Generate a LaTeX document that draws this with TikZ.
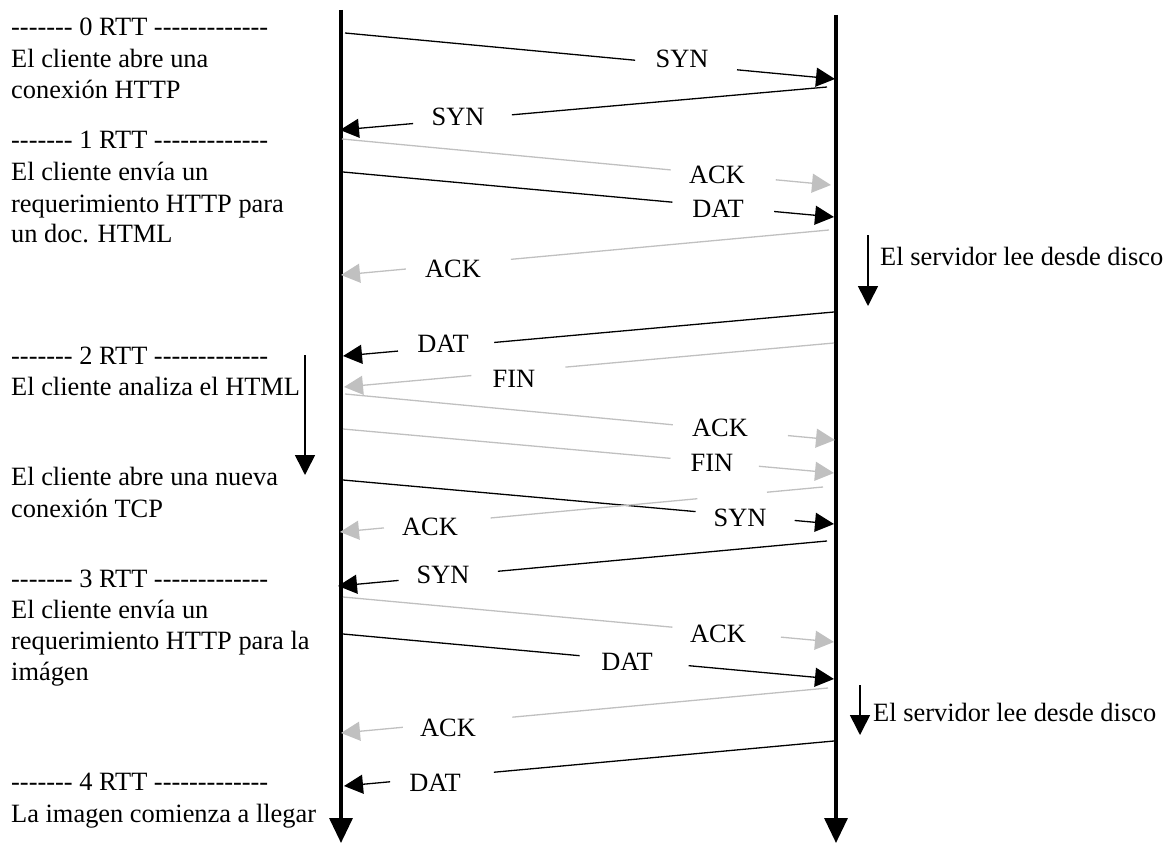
\documentclass[tikz,border=0pt]{standalone}
\usepackage{fontspec}
\setmainfont{Liberation Serif}
\usetikzlibrary{arrows.meta}

\definecolor{msggray}{RGB}{192,192,192}

% a run of plain hyphens, kept apart so they never merge into dashes
\newcommand\dashrun[1]{\foreach \i in {1,...,#1}{-\kern0pt}}

\tikzset{
  txt/.style={inner sep=0pt, font=\fontsize{26.4}{31}\selectfont},
  note/.style={txt, anchor=base west},
  lab/.style={txt},
  lifeline/.style={line width=3.4pt, -{Triangle[length=25pt,width=23pt]}},
  blk/.style={draw=black, line width=1.3pt},
  gry/.style={draw=msggray, line width=1.3pt},
  msgtip/.style={-{Triangle[length=19pt,width=19pt]}},
  waitarrow/.style={line width=1.6pt, -{Triangle[length=20pt,width=20pt]}},
}

% message: style, start, end, gap begins (pos), gap ends (pos), name, label centre, label
\newcommand\msg[8]{%
  \node[lab] (#6) at (#7) {#8};
  \path (#2) -- (#3) coordinate[pos=#4] (#6a) coordinate[pos=#5] (#6b);
  \draw[#1] (#2) -- (#6a);
  \draw[#1, msgtip] (#6b) -- (#3);
}

\begin{document}
\begin{tikzpicture}[x=1pt, y=-1pt]
\useasboundingbox (0,0) rectangle (1176,843);

% lifelines
\coordinate (c0) at (341,10);  \coordinate (c1) at (341,843);
\coordinate (s0) at (836,15);  \coordinate (s1) at (836,843);
\draw[lifeline] (c0) -- (c1);
\draw[lifeline] (s0) -- (s1);

% endpoints of the messages
\coordinate (m1s) at (345,33);   \coordinate (m1e) at (835,79);
\coordinate (m2s) at (827,87);   \coordinate (m2e) at (340,130);
\coordinate (m3s) at (342,139);  \coordinate (m3e) at (831,185);
\coordinate (m4s) at (343,172);  \coordinate (m4e) at (834,217);
\coordinate (m5s) at (829,230);  \coordinate (m5e) at (341,275);
\coordinate (m6s) at (834,312);  \coordinate (m6e) at (343,356);
\coordinate (m7s) at (834,343);  \coordinate (m7e) at (344,387);
\coordinate (m8s) at (345,394);  \coordinate (m8e) at (835,440);
\coordinate (m9s) at (343,429);  \coordinate (m9e) at (834,473);
\coordinate (m10s) at (343,480); \coordinate (m10e) at (834,524);
\coordinate (m11s) at (823,487); \coordinate (m11e) at (340,532);
\coordinate (m12s) at (827,541); \coordinate (m12e) at (338,586);
\coordinate (m13s) at (343,597); \coordinate (m13e) at (834,642);
\coordinate (m14s) at (343,634); \coordinate (m14e) at (834,679);
\coordinate (m15s) at (828,688); \coordinate (m15e) at (341,733);
\coordinate (m16s) at (834,741); \coordinate (m16e) at (344,786);

% first connection
\msg{blk}{m1s}{m1e}{0.592}{0.800}{l1}{682,59}{SYN}
\msg{blk}{m2s}{m2e}{0.647}{0.850}{l2}{458,117}{SYN}
\msg{gry}{m3s}{m3e}{0.672}{0.887}{l3}{717,175}{ACK}
\msg{blk}{m4s}{m4e}{0.671}{0.878}{l4}{718,209}{DAT}
\msg{gry}{m5s}{m5e}{0.652}{0.867}{l5}{453,269}{ACK}
\msg{blk}{m6s}{m6e}{0.692}{0.888}{l6}{443,344}{DAT}
\msg{gry}{m7s}{m7e}{0.548}{0.740}{l7}{514,379}{FIN}
\msg{gry}{m8s}{m8e}{0.669}{0.904}{l8}{720,428}{ACK}
\msg{gry}{m9s}{m9e}{0.667}{0.847}{l9}{712,463}{FIN}

% second connection
\msg{blk}{m10s}{m10e}{0.718}{0.920}{l10}{740,518}{SYN}
% the server's ACK passes behind the SYN label
\node[lab] (l11) at (430,527) {ACK};
\path (m11s) -- (m11e) coordinate[pos=0.116] (l11p) coordinate[pos=0.260] (l11q)
                       coordinate[pos=0.688] (l11a) coordinate[pos=0.909] (l11b);
\draw[gry] (m11s) -- (l11p);
\draw[gry] (l11q) -- (l11a);
\draw[gry, msgtip] (l11b) -- (m11e);
\msg{blk}{m12s}{m12e}{0.673}{0.876}{l12}{443,575}{SYN}
\msg{gry}{m13s}{m13e}{0.671}{0.892}{l13}{718,634}{ACK}
\msg{blk}{m14s}{m14e}{0.482}{0.704}{l14}{627,662}{DAT}
\msg{gry}{m15s}{m15e}{0.648}{0.873}{l15}{448,728}{ACK}
\msg{blk}{m16s}{m16e}{0.694}{0.906}{l16}{435,783}{DAT}

% processing delays
\coordinate (w1a) at (305,355); \coordinate (w1b) at (305,475);
\draw[waitarrow] (w1a) -- (w1b);
\coordinate (w2a) at (868,235); \coordinate (w2b) at (868,306);
\draw[waitarrow] (w2a) -- (w2b);
\node[note] (srv1) at (880,265) {El servidor lee desde disco};
\coordinate (w3a) at (860,685); \coordinate (w3b) at (860,735);
\draw[waitarrow] (w3a) -- (w3b);
\node[note] (srv2) at (873,721) {El servidor lee desde disco};

% client timeline notes
\node[note] (t0)  at (11,36)  {\dashrun{7} 0 RTT \dashrun{13}};
\node[note] (t0a) at (11,68)  {El cliente abre una};
\node[note] (t0b) at (11,99)  {conexión HTTP};
\node[note] (t1)  at (11,148) {\dashrun{7} 1 RTT \dashrun{13}};
\node[note] (t1a) at (11,180) {El cliente envía un};
\node[note] (t1b) at (11,212) {requerimiento HTTP para};
\node[note] (t1c) at (11,242) {un doc. HTML};
\node[note] (t2)  at (11,364) {\dashrun{7} 2 RTT \dashrun{13}};
\node[note] (t2a) at (11,395) {El cliente analiza el HTML};
\node[note] (t2b) at (11,485) {El cliente abre una nueva};
\node[note] (t2c) at (11,517) {conexión TCP};
\node[note] (t3)  at (11,587) {\dashrun{7} 3 RTT \dashrun{13}};
\node[note] (t3a) at (11,618) {El cliente envía un};
\node[note] (t3b) at (11,649) {requerimiento HTTP para la};
\node[note] (t3c) at (11,680) {imágen};
\node[note] (t4)  at (11,790) {\dashrun{7} 4 RTT \dashrun{13}};
\node[note] (t4a) at (11,822) {La imagen comienza a llegar};
\end{tikzpicture}
\end{document}
